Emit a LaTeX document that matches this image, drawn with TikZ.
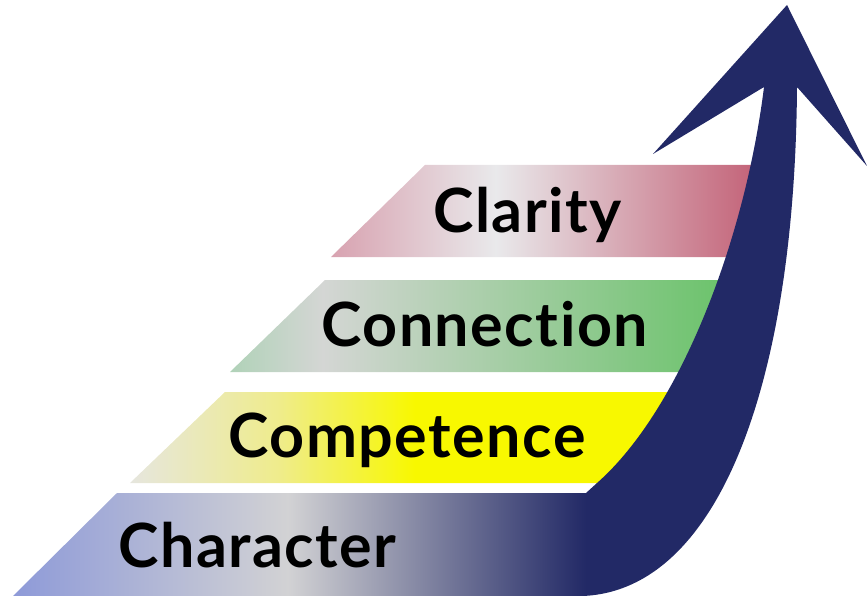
\documentclass[tikz,border=0pt]{standalone}
\usepackage{fontspec}
\setmainfont{Lato}[Ligatures={NoCommon}, LetterSpace=2.5]

\definecolor{navy}{HTML}{222966}
% step colours, left / middle / right
\definecolor{pinkL}{HTML}{D8A2B0}
\definecolor{pinkR}{HTML}{C25E74}
\definecolor{greyM}{HTML}{E9E9EB}
\definecolor{greenL}{HTML}{B0D2B8}
\definecolor{greenM}{HTML}{D4D6D4}
\definecolor{greenR}{HTML}{66C266}
\definecolor{yellowL}{HTML}{E6E6DE}
\definecolor{yellowM}{HTML}{EFEC8C}
\definecolor{yellowR}{HTML}{F8F800}
\definecolor{blueL}{HTML}{8E9AD8}
\definecolor{blueM}{HTML}{D2D2D4}

% colour runs for the steps (25bp = left end, 75bp = right end)
\pgfdeclarehorizontalshading{claritystep}{100bp}{color(0bp)=(pinkL); color(25bp)=(pinkL);
  color(44bp)=(greyM); color(75bp)=(pinkR); color(100bp)=(pinkR)}
\pgfdeclarehorizontalshading{connectionstep}{100bp}{color(0bp)=(greenL); color(25bp)=(greenL);
  color(34bp)=(greenM); color(75bp)=(greenR); color(100bp)=(greenR)}
\pgfdeclarehorizontalshading{competencestep}{100bp}{color(0bp)=(yellowL); color(25bp)=(yellowL);
  color(38bp)=(yellowM); color(50bp)=(yellowR); color(100bp)=(yellowR)}
\pgfdeclarehorizontalshading{characterstep}{100bp}{color(0bp)=(blueL); color(25bp)=(blueL);
  color(49bp)=(blueM); color(75bp)=(navy); color(100bp)=(navy)}

\tikzset{
  steplabel/.style={anchor=base west, inner sep=0pt, font=\fontsize{61}{61}\selectfont\bfseries}
}

\begin{document}
\begin{tikzpicture}[x=1pt, y=-1pt]
    \useasboundingbox (0, 0) rectangle (867, 596);
    % the four steps
    \shade[shading=claritystep] (425, 165) -- (765, 165) -- (765, 257) -- (331, 257) -- cycle;
    \shade[shading=connectionstep] (325, 280) -- (745, 280) -- (745, 372) -- (230, 372) -- cycle;
    \shade[shading=competencestep] (225, 392) -- (700, 392) -- (700, 483) -- (130, 483) -- cycle;
    \shade[shading=characterstep] (117, 493) -- (586, 493) -- (586, 596) -- (13, 596) -- cycle;
    % rising arrow
    \fill[navy] (586, 596) -- (586, 493) -- (597, 483)
        .. controls (680, 410) and (745, 240) .. (764, 87)
        -- (653, 154) -- (787, 5) -- (867, 166) -- (797, 87)
        .. controls (795, 380) and (720, 590) .. (583, 596) -- cycle;
    \node[steplabel] (clarity) at (433, 233) {Clarity};
    \node[steplabel] (connection) at (321, 346) {Connection};
    \node[steplabel] (competence) at (228, 457) {Competence};
    \node[steplabel] (character) at (118, 567) {Character};
\end{tikzpicture}
\end{document}
